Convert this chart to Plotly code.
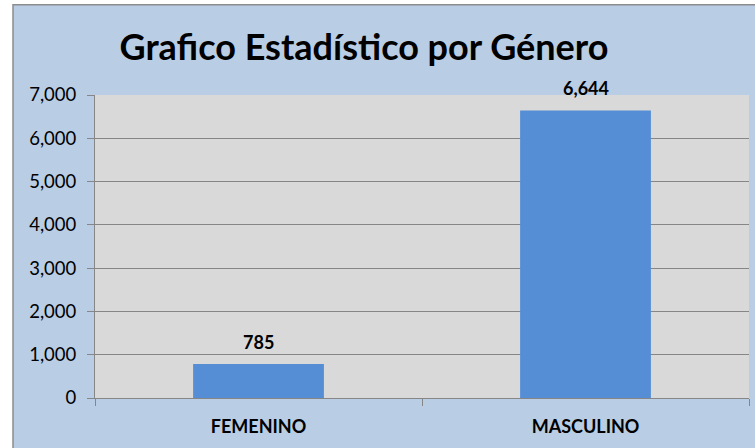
import plotly.graph_objects as go

categories = ["FEMENINO", "MASCULINO"]
values = [785, 6644]
y_tickvals = [0, 1000, 2000, 3000, 4000, 5000, 6000, 7000]

W, H = 755, 448
L, R, T, B = 95, 6, 95, 50
pw, ph = W - L - R, H - T - B

def px_x(x):
    return (x - L) / pw

def px_y(y):
    return (H - B - y) / ph

FONT = "Lato"

fig = go.Figure()
fig.add_trace(go.Bar(
    x=categories, y=values,
    marker=dict(color="#558ED5", line=dict(width=0)),
    hoverinfo="skip",
))

for c, v in zip(categories, values):
    fig.add_annotation(
        x=c, y=v, text=f"<b>{v:,}</b>", showarrow=False,
        yanchor="middle", yshift=22,
        font=dict(family=FONT, size=18, color="black"),
    )

fig.update_layout(
    template="none",
    width=W, height=H, autosize=False,
    margin=dict(l=L, r=R, t=T, b=B, pad=0),
    paper_bgcolor="white",
    plot_bgcolor="#D9D9D9",
    bargap=0.6,
    showlegend=False,
    font=dict(family=FONT, size=18, color="black"),
    title=dict(
        text="<b>Grafico Estadístico por Género</b>",
        x=364 / W, xref="container", xanchor="center",
        y=1 - 47 / H, yref="container", yanchor="middle",
        font=dict(family=FONT, size=36, color="black"),
    ),
    shapes=[
        dict(type="rect", xref="paper", yref="paper", layer="below",
             x0=px_x(13), x1=px_x(760), y0=px_y(455), y1=px_y(4.8),
             fillcolor="#B9CDE5", line=dict(color="#8C8C8C", width=1.5)),
        dict(type="rect", xref="paper", yref="paper", layer="below",
             x0=0, x1=1, y0=0, y1=1,
             fillcolor="#D9D9D9", line=dict(width=0)),
    ],
)

fig.update_yaxes(
    automargin=False,
    range=[0, 7000], tickvals=y_tickvals, tickformat=",",
    showgrid=True, gridcolor="#868686", gridwidth=1,
    showline=True, linecolor="#868686", linewidth=1,
    ticks="outside", ticklen=7, tickcolor="#868686", tickwidth=1,
    ticklabelstandoff=7, zeroline=False,
    tickfont=dict(family=FONT, size=18.5, color="black"),
)
fig.update_xaxes(
    automargin=False,
    tickson="boundaries", ticks="outside", ticklen=7, tickcolor="#868686", tickwidth=1,
    showline=True, linecolor="#868686", linewidth=1,
    showgrid=False, ticklabelstandoff=12, zeroline=False,
    tickvals=categories,
    ticktext=[f"<b>{c}</b>" for c in categories],
    tickfont=dict(family=FONT, size=18, color="black"),
)

fig.write_html(
    "out.html",
    config={"displayModeBar": False},
    post_script="document.body.style.margin='0';document.body.style.overflow='hidden';",
)
